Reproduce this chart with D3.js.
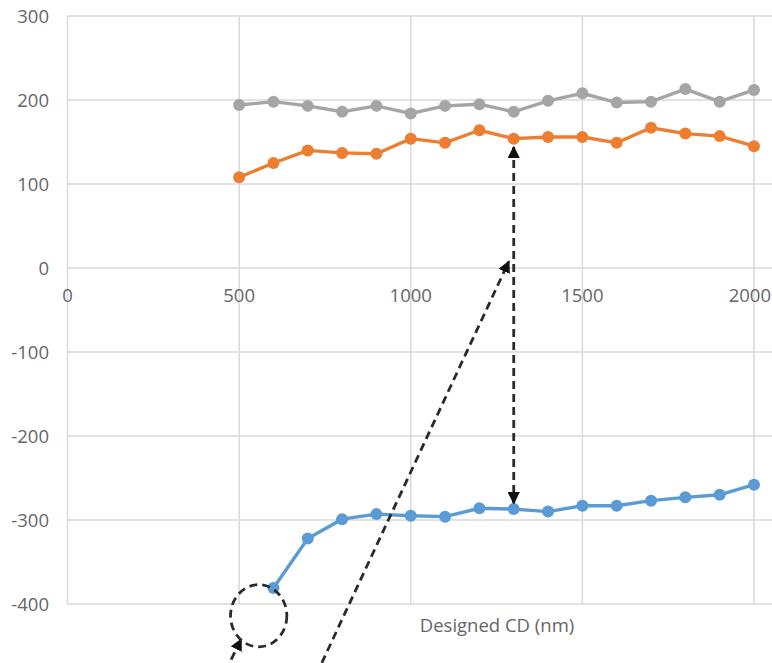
<!DOCTYPE html>
<html>
<head>
<meta charset="utf-8">
<script src="https://cdn.jsdelivr.net/npm/d3@7"></script>
<style>
  body { margin: 0; background: #fff; }
  svg { display: block; }
  .tick-label { font-family: "Open Sans", sans-serif; font-size: 18.5px; fill: #666; }
</style>
</head>
<body>
<div id="my_dataviz"></div>
<script>
// designed CD (nm)
var cdValues = [500, 600, 700, 800, 900, 1000, 1100, 1200, 1300, 1400, 1500, 1600, 1700, 1800, 1900, 2000];
var graySeries = [194, 198, 193, 186, 193, 184, 193, 195, 186, 199, 208, 197, 198, 213, 198, 212];
var orangeSeries = [108, 125, 140, 137, 136, 154, 149, 164, 154, 156, 156, 149, 167, 160, 157, 145];
// blue starts at 600
var blueCd = [600, 700, 800, 900, 1000, 1100, 1200, 1300, 1400, 1500, 1600, 1700, 1800, 1900, 2000];
var blueSeries = [-381, -322, -299, -293, -295, -296, -286, -287, -290, -283, -283, -277, -273, -270, -258];

var xTicks = [0, 500, 1000, 1500, 2000];
var yTicks = [300, 200, 100, 0, -100, -200, -300, -400];
var xTitle = "Designed CD (nm)";

// dashed annotations, in data units
var vArrow = { x: 1300, from: 144, to: -280 };
var diagArrow = { x1: 741, y1: -470, x2: 1286, y2: 8 };
var smallArrow = { x1: 460, y1: -480, x2: 506, y2: -442 };
var circleMark = { x: 557, y: -414, rx: 82, ry: 37 };

var W = 772, H = 663;
var svg = d3.select("#my_dataviz").append("svg")
  .attr("id", "svg")
  .attr("width", W)
  .attr("height", H);

var x = d3.scaleLinear().domain([0, 2000]).range([67.5, 754]);
var y = d3.scaleLinear().domain([-400, 300]).range([604, 16]);

var defs = svg.append("defs");
defs.append("marker")
  .attr("id", "head")
  .attr("viewBox", "0 0 10 10")
  .attr("refX", 9).attr("refY", 5)
  .attr("markerWidth", 4.4).attr("markerHeight", 4.4)
  .attr("markerUnits", "strokeWidth")
  .attr("orient", "auto-start-reverse")
  .append("path")
  .attr("d", "M0,0 L10,5 L0,10 Z")
  .attr("fill", "#111");

// gridlines
svg.append("g").selectAll("line")
  .data(yTicks)
  .enter().append("line")
  .attr("x1", x(0)).attr("x2", W)
  .attr("y1", function (d) { return y(d); })
  .attr("y2", function (d) { return y(d); })
  .attr("stroke", "#d9d9d9").attr("stroke-width", 1.5);

svg.append("g").selectAll("line")
  .data(xTicks)
  .enter().append("line")
  .attr("x1", function (d) { return x(d); })
  .attr("x2", function (d) { return x(d); })
  .attr("y1", y(300)).attr("y2", y(-400))
  .attr("stroke", "#d9d9d9").attr("stroke-width", 1.5);

// tick labels
svg.append("g").selectAll("text")
  .data(yTicks)
  .enter().append("text")
  .attr("class", "tick-label")
  .attr("x", 49)
  .attr("y", function (d) { return y(d); })
  .attr("dy", "0.36em")
  .attr("text-anchor", "end")
  .text(function (d) { return d; });

// last label would run off the right edge, so pin it inside
svg.append("g").selectAll("text")
  .data(xTicks)
  .enter().append("text")
  .attr("class", "tick-label")
  .attr("x", function (d, i) { return i == xTicks.length - 1 ? W - 1 : x(d); })
  .attr("y", y(0) + 27)
  .attr("dy", "0.36em")
  .attr("text-anchor", function (d, i) { return i == xTicks.length - 1 ? "end" : "middle"; })
  .text(function (d) { return d; });

svg.append("text")
  .attr("class", "tick-label")
  .attr("x", 497)
  .attr("y", 625)
  .attr("dy", "0.36em")
  .attr("text-anchor", "middle")
  .text(xTitle);

// series
function drawSeries(xs, ys, color) {
  var pts = xs.map(function (d, i) { return [d, ys[i]]; });
  var line = d3.line()
    .x(function (d) { return x(d[0]); })
    .y(function (d) { return y(d[1]); });
  svg.append("path")
    .datum(pts)
    .attr("d", line)
    .attr("fill", "none")
    .attr("stroke", color)
    .attr("stroke-width", 3.4);
  svg.append("g").selectAll("circle")
    .data(pts)
    .enter().append("circle")
    .attr("cx", function (d) { return x(d[0]); })
    .attr("cy", function (d) { return y(d[1]); })
    .attr("r", 6)
    .attr("fill", color);
}

drawSeries(cdValues, graySeries, "#a5a5a5");
drawSeries(cdValues, orangeSeries, "#ed7d31");
drawSeries(blueCd, blueSeries, "#5b9bd5");

// annotations
var ann = svg.append("g")
  .attr("fill", "none")
  .attr("stroke", "#2a2a2a")
  .attr("stroke-width", 2.8)
  .attr("stroke-dasharray", "8,5");

ann.append("line")
  .attr("x1", x(vArrow.x)).attr("x2", x(vArrow.x))
  .attr("y1", y(vArrow.from)).attr("y2", y(vArrow.to))
  .attr("marker-start", "url(#head)")
  .attr("marker-end", "url(#head)");

ann.append("line")
  .attr("x1", x(diagArrow.x1)).attr("y1", y(diagArrow.y1))
  .attr("x2", x(diagArrow.x2)).attr("y2", y(diagArrow.y2))
  .attr("marker-end", "url(#head)");

ann.append("line")
  .attr("x1", x(smallArrow.x1)).attr("y1", y(smallArrow.y1))
  .attr("x2", x(smallArrow.x2)).attr("y2", y(smallArrow.y2))
  .attr("marker-end", "url(#head)");

ann.append("ellipse")
  .attr("cx", x(circleMark.x)).attr("cy", y(circleMark.y))
  .attr("rx", x(circleMark.rx) - x(0))
  .attr("ry", y(0) - y(circleMark.ry));
</script>
</body>
</html>
